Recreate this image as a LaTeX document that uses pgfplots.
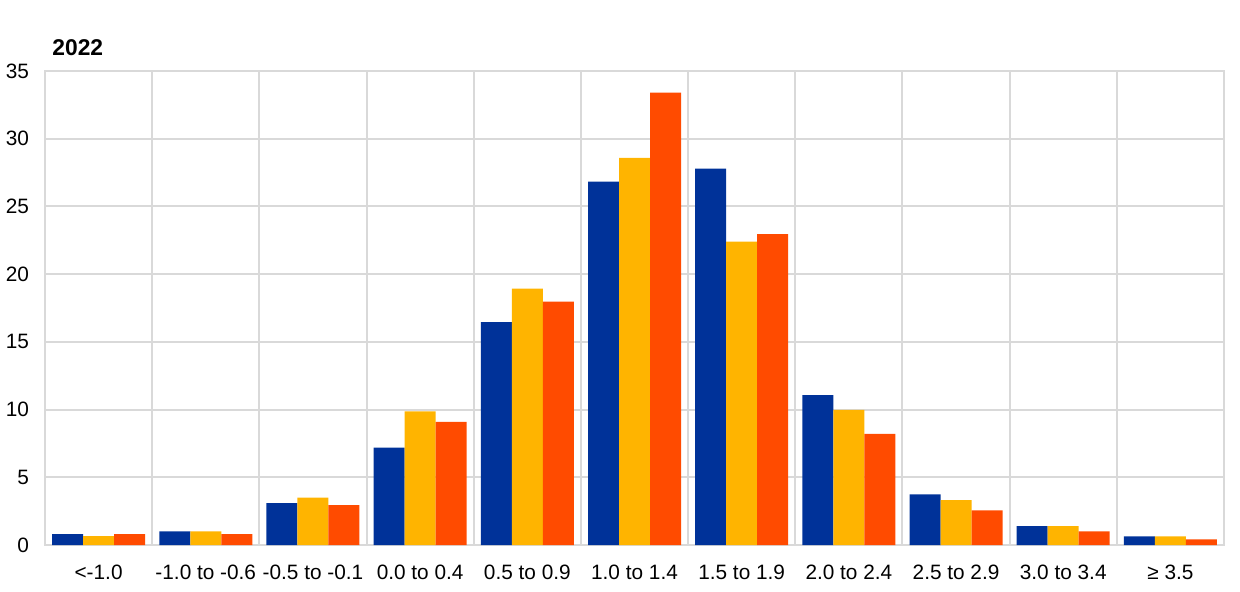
\documentclass[border=0pt]{standalone}
\usepackage{fontspec}
\setmainfont{Liberation Sans}
\usepackage{pgfplots}
\pgfplotsset{compat=1.18}
\definecolor{ecbblue}{HTML}{003299}
\definecolor{ecbyellow}{HTML}{FFB400}
\definecolor{ecborange}{HTML}{FF4B00}
\definecolor{gridgrey}{HTML}{D9D9D9}
\begin{document}
\begin{tikzpicture}
\begin{axis}[
  scale only axis,
  width=589.5pt, height=237pt,
  xmin=-0.5, xmax=10.5,
  ymin=0, ymax=35,
  ytick={0,5,...,35},
  xtick={0,...,10},
  xticklabels={{<-1.0},{-1.0 to -0.6},{-0.5 to -0.1},{0.0 to 0.4},{0.5 to 0.9},{1.0 to 1.4},{1.5 to 1.9},{2.0 to 2.4},{2.5 to 2.9},{3.0 to 3.4},{≥ 3.5}},
  minor xtick={0.5,1.5,...,9.5},
  xminorgrids=true,
  ymajorgrids=true,
  grid style={draw=gridgrey, line width=1pt},
  minor grid style={draw=gridgrey, line width=1pt},
  axis line style={draw=gridgrey, line width=1pt},
  major tick length=0pt, minor tick length=0pt,
  tick style={draw=none},
  ybar=0pt,
  bar width=15.5pt,
  /pgf/number format/assume math mode=true,
  tick label style={font=\fontsize{10.4}{12}\selectfont, text=black},
  yticklabel style={xshift=-4.5pt},
  xticklabel style={yshift=-6.5pt},
]
\addplot[fill=ecbblue, draw=none] coordinates {(0,0.8) (1,1.0) (2,3.1) (3,7.2) (4,16.45) (5,26.83) (6,27.79) (7,11.07) (8,3.74) (9,1.4) (10,0.64)};
\addplot[fill=ecbyellow, draw=none] coordinates {(0,0.65) (1,1.0) (2,3.5) (3,9.87) (4,18.93) (5,28.58) (6,22.4) (7,9.97) (8,3.32) (9,1.4) (10,0.64)};
\addplot[fill=ecborange, draw=none] coordinates {(0,0.8) (1,0.8) (2,2.95) (3,9.1) (4,17.97) (5,33.4) (6,22.96) (7,8.2) (8,2.56) (9,1.0) (10,0.42)};
\end{axis}
\node[anchor=base west, font=\fontsize{11.4}{13}\selectfont\bfseries, inner sep=0pt] at (3.5pt,245pt) {2022};
\pgfresetboundingbox
\path (-22.5pt,-23pt) rectangle (597.5pt,272.5pt);
\end{tikzpicture}
\end{document}
